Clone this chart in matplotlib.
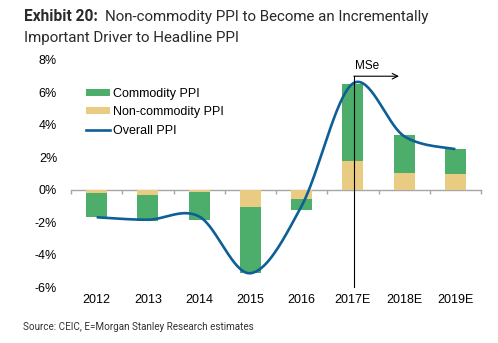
import numpy as np
import matplotlib
matplotlib.use("Agg")
import matplotlib.pyplot as plt
from matplotlib.patches import Patch
from matplotlib.lines import Line2D

years = ["2012", "2013", "2014", "2015", "2016", "2017E", "2018E", "2019E"]
non_commodity = [-0.2, -0.3, -0.15, -1.05, -0.55, 1.8, 1.05, 1.0]
commodity = [-1.5, -1.6, -1.7, -4.1, -0.7, 4.7, 2.3, 1.5]
overall = [-1.7, -1.85, -1.65, -5.15, -1.0, 6.55, 3.3, 2.5]
yticks = [-6, -4, -2, 0, 2, 4, 6, 8]

GREEN = "#4DAE6B"
YELLOW = "#E9CB82"
BLUE = "#0E5F96"

W, H = 498, 343
fig = plt.figure(figsize=(W / 100, H / 100), dpi=100)
ax = fig.add_axes([71 / W, 1 - 287 / H, 410 / W, 227 / H])

x = np.arange(len(years))
bw = 0.41
nc = np.array(non_commodity)
cm = np.array(commodity)
ax.bar(x, nc, width=bw, color=YELLOW, zorder=2)
ax.bar(x, cm, width=bw, bottom=nc, color=GREEN, zorder=2)


def smooth(xs, ys, n=40):
    P = np.column_stack([xs, ys]).astype(float)
    out = []
    for i in range(len(P) - 1):
        p0 = P[i - 1] if i > 0 else P[i]
        p1 = P[i]
        p2 = P[i + 1]
        p3 = P[i + 2] if i + 2 < len(P) else P[i + 1]
        c1 = p1 + (p2 - p0) / 6
        c2 = p2 - (p3 - p1) / 6
        t = np.linspace(0, 1, n)[:, None]
        seg = ((1 - t) ** 3) * p1 + 3 * ((1 - t) ** 2) * t * c1 + 3 * (1 - t) * t ** 2 * c2 + t ** 3 * p2
        out.append(seg if i == 0 else seg[1:])
    S = np.vstack(out)
    return S[:, 0], S[:, 1]


sx, sy = smooth(x, overall)
ax.plot(sx, sy, color=BLUE, lw=1.9, zorder=3, solid_capstyle="butt")

ax.set_xlim(-0.5, len(years) - 0.5)
ax.set_ylim(-6, 8)
ax.set_yticks(yticks)
ax.set_yticklabels([f"{v}%" for v in yticks])
for s in ["top", "right", "left"]:
    ax.spines[s].set_visible(False)
ax.spines["bottom"].set_position(("data", 0))
ax.spines["bottom"].set_color("#A6A6A6")
ax.spines["bottom"].set_linewidth(1.0)
ax.spines["bottom"].set_zorder(1)
ax.set_xticks(np.arange(-0.5, len(years), 1.0))
ax.set_xticklabels([])
ax.tick_params(axis="x", direction="out", length=3, color="#A6A6A6", width=1)
ax.tick_params(axis="y", length=0, pad=10, labelsize=9)
for lab in ax.get_yticklabels():
    lab.set_fontfamily("Liberation Sans")

sec = ax.secondary_xaxis("bottom")
sec.set_xticks(x)
sec.set_xticklabels(years, fontfamily="Liberation Sans", fontsize=9)
sec.tick_params(length=0, pad=5)
sec.spines["bottom"].set_visible(False)

# MSe marker
vx = 5.02
ax.plot([vx, vx], [-6, 7.0], color="black", lw=0.8, zorder=4, clip_on=False)
ax.annotate("", xy=(5.9, 7.0), xytext=(vx, 7.0),
            arrowprops=dict(arrowstyle="->", color="black", lw=0.8, shrinkA=0, shrinkB=0,
                            mutation_scale=10), annotation_clip=False)
ax.text(vx + 0.02, 7.25, "MSe", fontsize=8.5, fontfamily="Liberation Sans", va="bottom", ha="left")

handles = [Patch(facecolor=GREEN, edgecolor="none", label="Commodity PPI"),
           Patch(facecolor=YELLOW, edgecolor="none", label="Non-commodity PPI"),
           Line2D([0], [0], color=BLUE, lw=1.9, label="Overall PPI")]
fig.legend(handles=handles, loc="upper left", bbox_to_anchor=(86 / W, 1 - 88 / H),
           frameon=False, borderpad=0, borderaxespad=0, handlelength=1.9, handleheight=0.45,
           handletextpad=0.25, labelspacing=0.5, prop={"family": "Liberation Sans", "size": 9})

fig.text(24 / W, 1 - 21 / H, "Exhibit 20:", fontsize=11.2, fontweight="bold",
         fontfamily="Roboto", color="#2a2a2a", va="baseline")
fig.text(105 / W, 1 - 21 / H, "Non-commodity PPI to Become an Incrementally", fontsize=10.9,
         fontfamily="Roboto", color="#2a2a2a", va="baseline")
fig.text(24 / W, 1 - 42 / H, "Important Driver to Headline PPI", fontsize=10.9,
         fontfamily="Roboto", color="#2a2a2a", va="baseline")
fig.text(23 / W, 1 - 330 / H, "Source: CEIC, E=Morgan Stanley Research estimates", fontsize=7.1,
         fontfamily="Roboto", color="#333333", va="baseline")

fig.savefig("out.png", dpi=100)
